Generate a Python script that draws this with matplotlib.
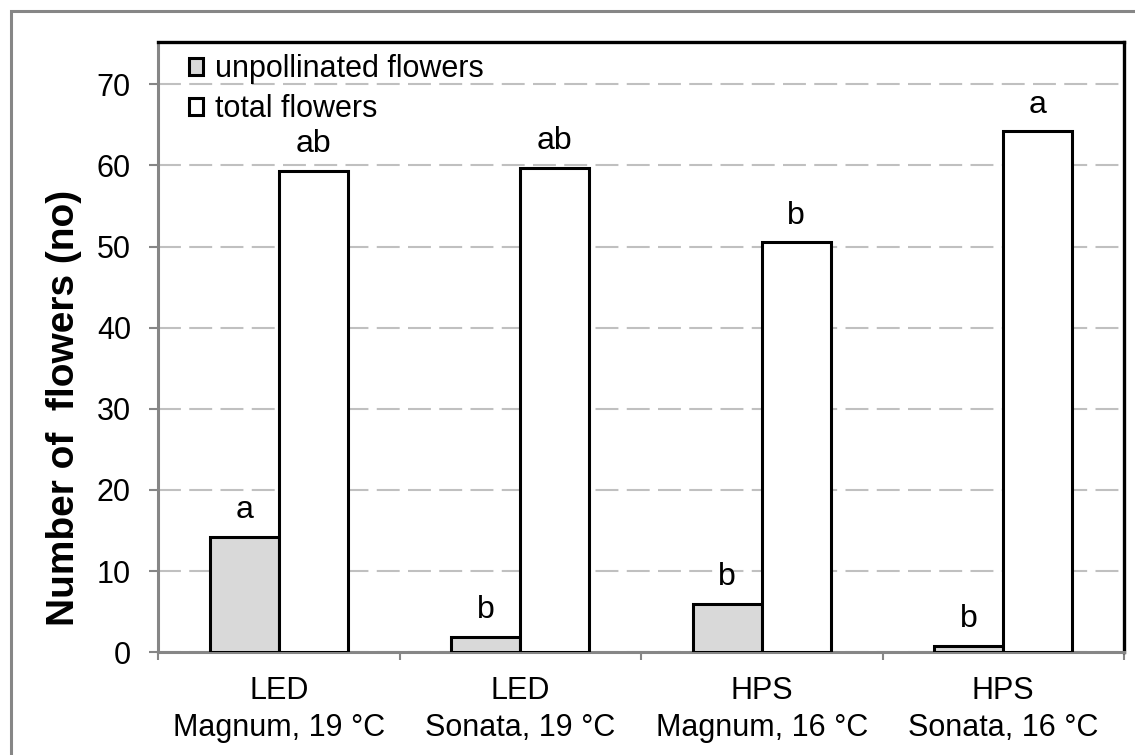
import numpy as np
import matplotlib.pyplot as plt
from matplotlib.patches import Rectangle

plt.rcParams['font.family'] = ['Liberation Sans', 'DejaVu Sans']

# 数据
categories = ['LED\nMagnum, 19 °C', 'LED\nSonata, 19 °C',
              'HPS\nMagnum, 16 °C', 'HPS\nSonata, 16 °C']
unpollinated = [14.2, 1.9, 6.0, 0.8]
total = [59.3, 59.7, 50.5, 64.2]
letters_unpoll = ['a', 'b', 'b', 'b']
letters_total = ['ab', 'ab', 'b', 'a']

W, H = 1135, 755
fig = plt.figure(figsize=(W / 100, H / 100), dpi=100)
ax = fig.add_axes([158 / W, 1 - 652.3 / H, (1124 - 158) / W, (652.3 - 42) / H])

# 外框 (Excel 图表区)
fig.patches.append(Rectangle((10.5 / W, -0.1), 1.2, (H - 10.5) / H + 0.1,
                             transform=fig.transFigure, fill=False,
                             ec='#868686', lw=2.2, zorder=0))

x = np.arange(len(categories))
w = 0.286
ax.bar(x - w / 2, unpollinated, w, color='#d9d9d9', edgecolor='black',
       linewidth=2.2, label='unpollinated flowers', zorder=3)
ax.bar(x + w / 2, total, w, color='white', edgecolor='black',
       linewidth=2.2, label='total flowers', zorder=3)

# 显著性字母
for xi, v, t in zip(x - w / 2, unpollinated, letters_unpoll):
    ax.annotate(t, (xi, v), xytext=(0, 13.5), textcoords='offset points',
                ha='center', va='baseline', fontsize=23)
for xi, v, t in zip(x + w / 2, total, letters_total):
    ax.annotate(t, (xi, v), xytext=(0, 13.5), textcoords='offset points',
                ha='center', va='baseline', fontsize=23)

ax.set_xlim(-0.5, 3.5)
ax.set_ylim(0, 75.2)
ax.set_yticks(np.arange(0, 71, 10))
ax.grid(axis='y', color='#c0c0c0', linewidth=1.5, linestyle=(0, (11, 4)), zorder=1)
ax.set_axisbelow(True)

ax.set_xticks(x)
ax.set_xticklabels(categories, fontsize=22, linespacing=1.3)
ax.set_xticks(np.arange(-0.5, 4, 1), minor=True)
ax.tick_params(axis='x', which='major', length=0, pad=17)
ax.tick_params(axis='x', which='minor', length=6, width=1.5, color='#868686')
ax.tick_params(axis='y', length=6.5, width=1.5, color='#868686', labelsize=22, pad=13)

for s in ['left', 'bottom']:
    ax.spines[s].set_color('#868686')
    ax.spines[s].set_linewidth(2.2)
for s in ['top', 'right']:
    ax.spines[s].set_color('black')
    ax.spines[s].set_linewidth(2.4)

ax.set_ylabel('Number of  flowers (no)', fontsize=28, fontweight='bold')
ax.yaxis.set_label_coords(-0.079, 0.40)

ax.legend(loc='upper left', bbox_to_anchor=(0.01, 1.015), frameon=False, fontsize=22,
          handlelength=0.45, handleheight=0.45, handletextpad=0.4,
          labelspacing=0.33, borderaxespad=0.3)

fig.savefig('out.png', dpi=100)
